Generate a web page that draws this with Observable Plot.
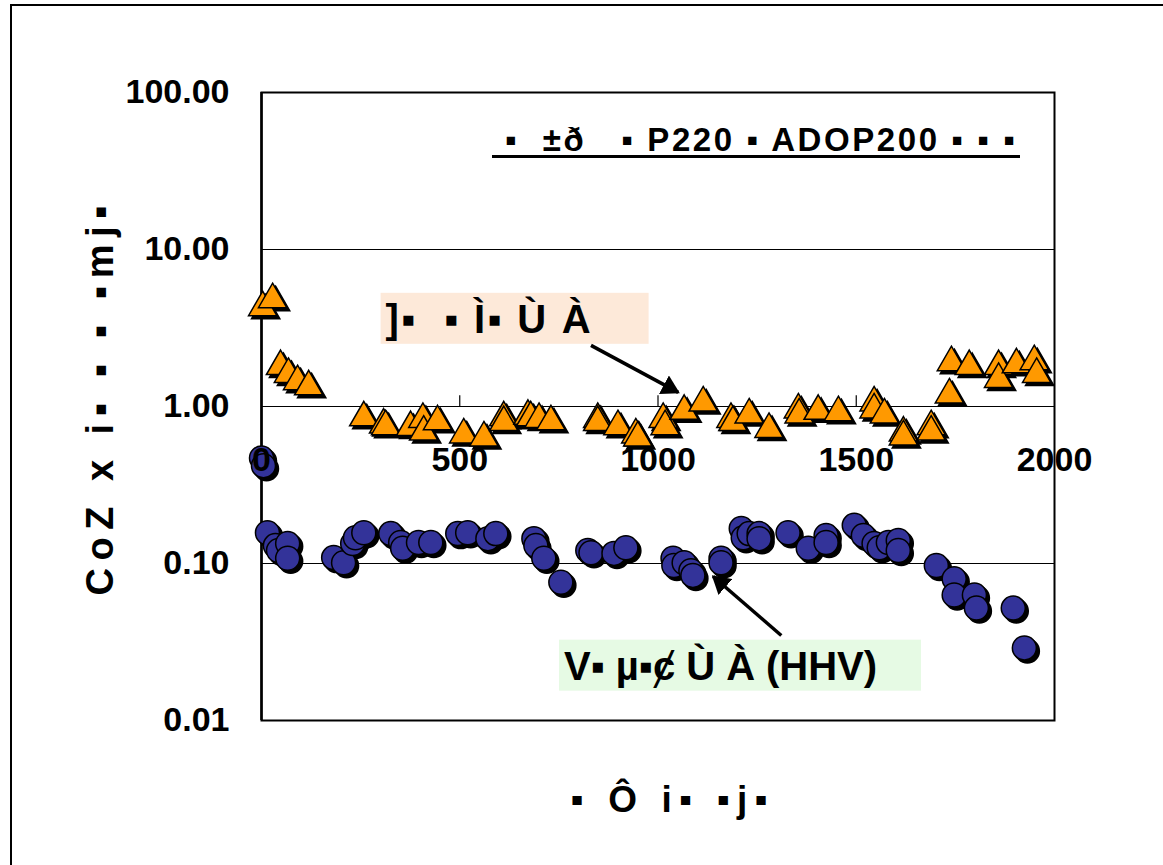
<!DOCTYPE html>
<html><head><meta charset="utf-8">
<script src="https://cdn.jsdelivr.net/npm/d3@7"></script>
<script src="https://cdn.jsdelivr.net/npm/@observablehq/plot@0.6"></script>
<style>
body{margin:0;background:#fff;}
#wrap{position:relative;width:1163px;height:865px;overflow:hidden;}
#border{position:absolute;left:10px;top:4px;width:1200px;height:900px;border:2px solid #000;box-sizing:border-box;pointer-events:none;}
svg text{white-space:pre;}
</style></head><body><div id="wrap"><div id="border"></div></div>
<script>
// ---- data ----
const triX = [3, 28, 48, 68, 91, 119, 258, 308, 313, 376, 407, 409, 444, 510, 561, 611, 611, 672, 679, 700, 730, 848, 848, 899, 944, 949, 1013, 1018, 1066, 1114, 1184, 1189, 1230, 1280, 1354, 1356, 1404, 1455, 1545, 1545, 1571, 1619, 1619, 1689, 1689, 1735, 1740, 1785, 1859, 1859, 1904, 1949, 1955];
const triY = [4.53, 5.09, 1.91, 1.70, 1.53, 1.42, 0.90, 0.81, 0.79, 0.78, 0.88, 0.73, 0.85, 0.70, 0.67, 0.90, 0.84, 0.92, 0.90, 0.88, 0.85, 0.88, 0.84, 0.79, 0.70, 0.67, 0.88, 0.79, 0.99, 1.12, 0.88, 0.84, 0.94, 0.76, 1.01, 0.94, 0.99, 0.97, 1.12, 1.01, 0.94, 0.72, 0.68, 0.79, 0.73, 1.26, 2.02, 1.91, 1.91, 1.58, 1.96, 2.05, 1.70];
const cirX = [0, 5, 15, 35, 43, 66, 66, 182, 207, 230, 237, 258, 326, 351, 356, 396, 427, 495, 520, 571, 591, 687, 692, 712, 755, 823, 831, 889, 919, 1038, 1040, 1066, 1083, 1088, 1159, 1159, 1210, 1215, 1230, 1255, 1255, 1328, 1379, 1424, 1424, 1495, 1518, 1545, 1558, 1581, 1606, 1606, 1702, 1747, 1747, 1798, 1803, 1896, 1924];
const cirY = [0.47, 0.42, 0.157, 0.130, 0.121, 0.134, 0.108, 0.109, 0.101, 0.134, 0.146, 0.157, 0.155, 0.136, 0.125, 0.136, 0.136, 0.155, 0.157, 0.144, 0.155, 0.144, 0.130, 0.108, 0.076, 0.121, 0.117, 0.116, 0.126, 0.108, 0.097, 0.101, 0.090, 0.084, 0.108, 0.101, 0.167, 0.146, 0.155, 0.155, 0.144, 0.157, 0.125, 0.151, 0.136, 0.175, 0.151, 0.134, 0.126, 0.136, 0.140, 0.121, 0.097, 0.080, 0.063, 0.063, 0.052, 0.052, 0.029];
const yTicks = [100, 10, 1, 0.1, 0.01];
const yGrid = [10, 1, 0.1];
const xTicks = [0, 500, 1000, 1500, 2000];
const xTickMarks = [500, 1000, 1500];
const titleText = "▪  ±ð   ▪ P220 ▪ ADOP200 ▪ ▪ ▪";
const yLabel = "CoZ x i▪ ▪ ▪ ▪mj▪";
const xLabel = "▪ Ô i▪ ▪j▪";
const annoText = ["]▪  ▪ Ì▪ Ù À", "V▪ µ▪ȼ Ù À (HHV)"];
const annoX = [313, 763];
const annoY = [3.53, 0.0218];
const annoFill = ["#FDE9D9", "#E6FAE4"];
const arrowX1 = [831, 1311], arrowY1 = [2.45, 0.0348];
const arrowX2 = [1051, 1139], arrowY2 = [1.23, 0.0827];

const tri = triX.map((x, i) => ({x, y: triY[i]}));
const cir = cirX.map((x, i) => ({x, y: cirY[i]}));
const annos = annoText.map((t, i) => ({t, x: annoX[i], y: annoY[i]}));
const arrows = arrowX1.map((x1, i) => ({x1, y1: arrowY1[i], x2: arrowX2[i], y2: arrowY2[i]}));
const font = "'Liberation Sans', Arial, sans-serif";

const chart = Plot.plot({
  width: 1163, height: 865,
  marginLeft: 261, marginRight: 109, marginTop: 92, marginBottom: 145,
  x: {domain: [0, 2000], axis: null},
  y: {type: "log", domain: [0.01, 100], axis: null},
  style: {fontFamily: font, background: "transparent", overflow: "visible"},
  marks: [
    Plot.ruleY(yGrid, {stroke: "#000", strokeWidth: 1.2}),
    Plot.ruleX(xTickMarks, {y1: () => 1, y2: () => 1.17, stroke: "#000", strokeWidth: 1.2}),
    Plot.frame({stroke: "#000", strokeWidth: 2}),
    Plot.ruleX([0], {stroke: "#000", strokeWidth: 2.5}),
    Plot.dot(cir, {x: "x", y: "y", r: 12, fill: "#000", stroke: "#000", dx: 3, dy: 3}),
    Plot.dot(cir, {x: "x", y: "y", r: 12, fill: "#333399", stroke: "#000", strokeWidth: 1.5}),
    Plot.dot(tri, {x: "x", y: "y", symbol: "triangle", r: 10.5, fill: "#000", stroke: "#000", dx: 3, dy: 7}),
    Plot.dot(tri, {x: "x", y: "y", symbol: "triangle", r: 10.5, fill: "#FF9900", stroke: "#000", strokeWidth: 1.5, dy: 4}),
    Plot.link(arrows, {x1: "x1", y1: "y1", x2: "x2", y2: "y2", stroke: "#000", strokeWidth: 3.5}),
    Plot.text(yTicks, {frameAnchor: "left", y: d => d, text: d => d3.format(".2f")(d), textAnchor: "end", lineAnchor: "middle", dx: -32, fontSize: 34, fontWeight: "bold", fill: "#000"}),
    Plot.text(xTicks, {x: d => d, y: () => 1, dy: 54, text: d => String(d), lineAnchor: "middle", fontSize: 34, fontWeight: "bold", fill: "#000"}),
    Plot.text([titleText], {frameAnchor: "top", text: d => d, textAnchor: "middle", lineAnchor: "middle", dx: 102, dy: 48, fontSize: 33, fontWeight: "bold", fill: "#000", ariaDescription: "title"}),
    Plot.text([yLabel], {frameAnchor: "left", text: d => d, textAnchor: "middle", lineAnchor: "middle", rotate: -90, dx: -161, dy: -6, fontSize: 38, fontWeight: "bold", fill: "#000", ariaDescription: "ylabel"}),
    Plot.text([xLabel], {frameAnchor: "bottom", text: d => d, textAnchor: "middle", lineAnchor: "middle", dx: 11, dy: 80, fontSize: 37, fontWeight: "bold", fill: "#000", ariaDescription: "xlabel"}),
    Plot.text(annos, {x: "x", y: "y", text: "t", textAnchor: "start", lineAnchor: "middle", fontSize: 40, fontWeight: "bold", fill: "#000", ariaDescription: "anno"})
  ]
});
document.getElementById("wrap").prepend(chart);
chart.style.position = "absolute"; chart.style.left = "0"; chart.style.top = "0";

// post-processing: arrowheads, text fitting, label backgrounds, title underline
const ns = "http://www.w3.org/2000/svg";
const defs = document.createElementNS(ns, "defs");
defs.innerHTML = '<marker id="ah" viewBox="0 0 10 10" refX="9" refY="5" markerWidth="18" markerHeight="21" markerUnits="userSpaceOnUse" orient="auto" preserveAspectRatio="none"><path d="M0,0L10,5L0,10Z" fill="#000"/></marker>';
chart.appendChild(defs);
chart.querySelectorAll('g[aria-label="link"] path').forEach(p => p.setAttribute("marker-end", "url(#ah)"));

function fit(sel, len) {
  chart.querySelectorAll(sel).forEach((t, i) => {
    const L = Array.isArray(len) ? len[i] : len;
    t.setAttribute("textLength", L);
    t.setAttribute("lengthAdjust", "spacing");
  });
}
fit('g[aria-description="title"] text', 510);
fit('g[aria-description="ylabel"] text', 390);
fit('g[aria-description="xlabel"] text', 197);
fit('g[aria-description="anno"] text', [205, 313]);

const sb = chart.getBoundingClientRect();
// underline for the title (appended at the svg root, in page pixels)
chart.querySelectorAll('g[aria-description="title"] text').forEach(t => {
  const b = t.getBoundingClientRect();
  const cy = b.top + b.height / 2 - sb.top;
  const l = document.createElementNS(ns, "line");
  l.setAttribute("x1", b.left - sb.left - 13);
  l.setAttribute("x2", b.right - sb.left + 5);
  l.setAttribute("y1", cy + 17);
  l.setAttribute("y2", cy + 17);
  l.setAttribute("stroke", "#000");
  l.setAttribute("stroke-width", 3);
  chart.appendChild(l);
});
const annoG = chart.querySelector('g[aria-description="anno"]');
const padR = [58, 44];
annoG.querySelectorAll("text").forEach((t, i) => {
  const b = t.getBoundingClientRect();
  const cy = b.top + b.height / 2 - sb.top;
  const r = document.createElementNS(ns, "rect");
  r.setAttribute("x", b.left - sb.left - 5);
  r.setAttribute("y", cy - 26);
  r.setAttribute("width", b.width + 5 + padR[i]);
  r.setAttribute("height", 51);
  r.setAttribute("fill", annoFill[i]);
  chart.insertBefore(r, chart.querySelector('g[aria-label="dot"]'));
});
</script></body></html>
